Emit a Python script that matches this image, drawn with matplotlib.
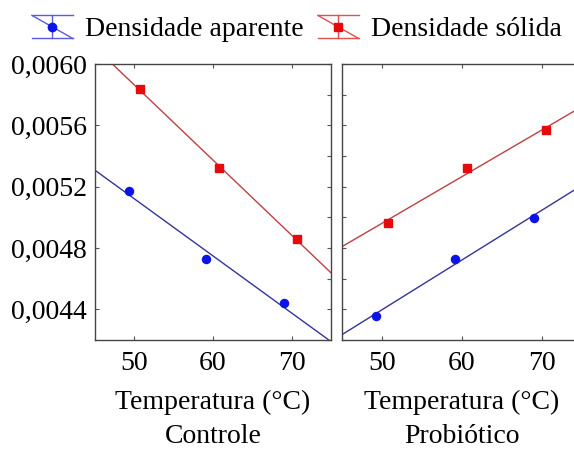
import numpy as np
import matplotlib
matplotlib.use("Agg")
import matplotlib.pyplot as plt
from matplotlib.lines import Line2D
from matplotlib.legend_handler import HandlerBase
from matplotlib.ticker import MultipleLocator, FuncFormatter

plt.rcParams['font.family'] = ['Liberation Serif', 'DejaVu Serif']
plt.rcParams['font.size'] = 20

# data
panels = ['Controle', 'Probiótico']
x_aparente = [[49.3, 59.1, 69.0], [49.3, 59.1, 69.0]]
y_aparente = [[0.005175, 0.004726, 0.004441], [0.004358, 0.004726, 0.004998]]
x_solida = [[50.7, 60.7, 70.7], [50.7, 60.6, 70.5]]
y_solida = [[0.005837, 0.005323, 0.004857], [0.004964, 0.005321, 0.005567]]
series_names = ['Densidade aparente', 'Densidade sólida']
y_ticks = [0.0044, 0.0048, 0.0052, 0.0056, 0.0060]
x_ticks = [50, 60, 70]

blue_pt, blue_ln = '#0a14e6', '#34349a'
red_pt, red_ln = '#e60a0a', '#c04040'


class FitHandler(HandlerBase):
    # statistica-like legend key: caps, stem, diagonal fit line, marker
    def create_artists(self, legend, orig, xd, yd, w, h, fs, trans):
        c = orig.get_color()
        y0 = yd - 3.5
        arts = [
            Line2D([xd, xd + w], [y0 + h, y0 + h], color=c, lw=1),
            Line2D([xd, xd + w], [y0, y0], color=c, lw=1),
            Line2D([xd + w / 2, xd + w / 2], [y0, y0 + h], color=c, lw=1),
            Line2D([xd, xd + w], [y0 + h, y0], color=c, lw=1),
            Line2D([xd + w / 2], [y0 + h / 2], marker=orig.get_marker(), ms=6,
                   color=orig.get_markerfacecolor(), lw=0),
        ]
        for a in arts:
            a.set_transform(trans)
        return arts


fig = plt.figure(figsize=(5.74, 4.5), dpi=100)
ax1 = fig.add_axes([95 / 574, 110 / 450, 236 / 574, 276 / 450])
ax2 = fig.add_axes([342 / 574, 110 / 450, 240 / 574, 276 / 450], sharey=ax1)

xx = np.linspace(45, 75, 50)
for i, ax in enumerate([ax1, ax2]):
    for xs, ys, mk, pc, lc in [(x_aparente[i], y_aparente[i], 'o', blue_pt, blue_ln),
                               (x_solida[i], y_solida[i], 's', red_pt, red_ln)]:
        k, b = np.polyfit(xs, ys, 1)
        ax.plot(xx, k * xx + b, color=lc, lw=1, zorder=2)
        ax.plot(xs, ys, mk, color=pc, ms=5.8, zorder=3)
    ax.set_xlim(45, 75)
    ax.set_ylim(0.0042, 0.0060)
    ax.set_xticks(x_ticks)
    ax.set_yticks(y_ticks)
    ax.tick_params(which='both', direction='in', top=True, right=True,
                   length=3, width=0.8, color='#555555', pad=6)
    ax.tick_params(axis='x', pad=8)
    for s in ax.spines.values():
        s.set_color('#444444')
        s.set_linewidth(1)
    ax.set_xlabel('Temperatura (°C)\n' + panels[i], linespacing=1.45, labelpad=10)

# minor ticks only show on the inner right spine of the first panel
ax1.yaxis.set_minor_locator(MultipleLocator(0.0002))
ax1.tick_params(axis='y', which='minor', left=False, right=True)
ax1.yaxis.set_major_formatter(FuncFormatter(lambda v, p: f'{v:.4f}'.replace('.', ',')))
ax2.tick_params(axis='y', labelleft=False)

handles = [Line2D([], [], color='#5a5ae0', marker='o', markerfacecolor=blue_pt),
           Line2D([], [], color='#e05050', marker='s', markerfacecolor=red_pt)]
fig.legend(handles, series_names, loc='center', bbox_to_anchor=(297 / 574, 1 - 28 / 450),
           ncol=2, frameon=False, handler_map={Line2D: FitHandler()},
           handlelength=1.47, handleheight=0.9, handletextpad=0.45, columnspacing=0.5,
           borderaxespad=0, borderpad=0)

fig.savefig('out.png', dpi=100)
